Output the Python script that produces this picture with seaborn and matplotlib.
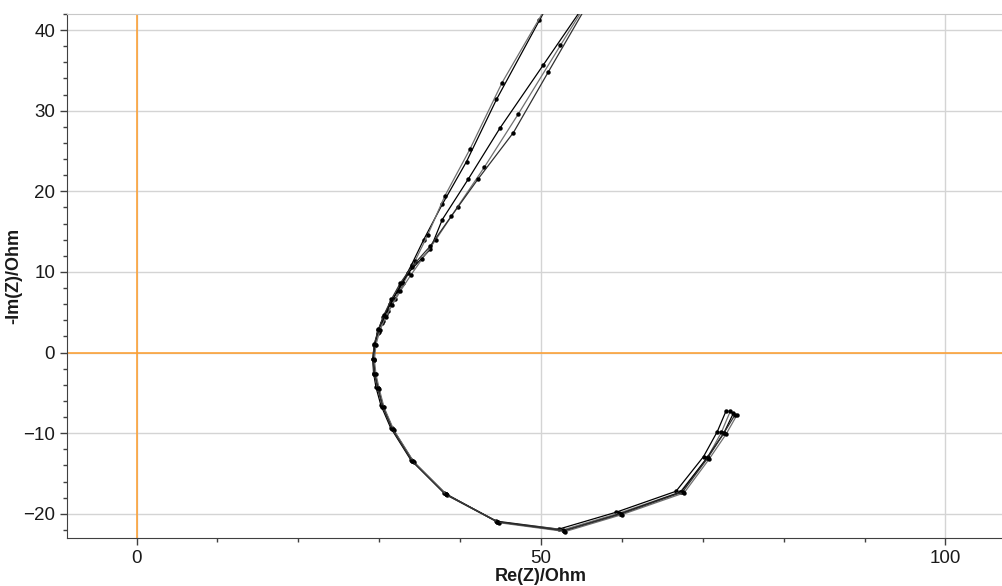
import numpy as np
import pandas as pd
import seaborn as sns
import matplotlib.pyplot as plt
from matplotlib.ticker import MultipleLocator

# impedance traces, Re(Z) and -Im(Z) in Ohm, high frequency first
re_a = [72.9, 71.8, 70.1, 66.7, 59.3, 52.2, 44.4, 38.0, 33.9, 31.4, 30.2, 29.6, 29.3, 29.2,
        29.4, 29.8, 30.3, 30.8, 31.5, 32.6, 34.0, 35.5, 37.8, 40.8, 44.5, 49.8, 56.7]
im_a = [-7.2, -9.8, -12.9, -17.2, -19.8, -21.9, -20.9, -17.4, -13.3, -9.3, -6.5, -4.3, -2.5, -0.8,
        1.0, 2.4, 3.7, 4.8, 6.3, 8.2, 10.9, 14.0, 18.4, 23.7, 31.4, 41.2, 54.0]

re_b = [73.4, 72.3, 70.6, 67.2, 59.7, 52.7, 44.6, 38.2, 34.1, 31.6, 30.4, 29.8, 29.4, 29.3,
        29.5, 30.0, 30.5, 31.1, 31.9, 33.0, 34.4, 36.0, 38.1, 41.2, 45.2, 51.0, 57.5]
im_b = [-7.3, -9.9, -13.0, -17.3, -19.9, -22.0, -21.0, -17.5, -13.4, -9.4, -6.6, -4.4, -2.6, -0.9,
        1.0, 2.6, 3.9, 5.1, 6.6, 8.6, 11.3, 14.6, 19.4, 25.2, 33.5, 43.5, 55.0]

re_c = [73.8, 72.6, 70.5, 67.3, 59.8, 52.9, 44.7, 38.3, 34.2, 31.7, 30.5, 29.9, 29.5, 29.3,
        29.5, 29.9, 30.5, 31.3, 32.3, 33.6, 36.3, 37.8, 41.0, 44.9, 50.3, 57.2]
im_c = [-7.5, -10.0, -13.1, -17.3, -20.0, -22.1, -21.0, -17.6, -13.5, -9.5, -6.7, -4.4, -2.6, -0.8,
        1.1, 2.8, 4.4, 6.0, 7.7, 9.9, 12.8, 16.5, 21.5, 27.8, 35.7, 45.8]

re_d = [74.2, 72.9, 70.8, 67.7, 60.0, 53.0, 44.8, 38.4, 34.3, 31.8, 30.6, 30.0, 29.6, 29.4,
        29.6, 30.1, 30.8, 31.6, 32.6, 33.9, 35.3, 37.0, 39.7, 43.0, 47.2, 52.4, 59.0]
im_d = [-7.8, -10.1, -13.2, -17.4, -20.1, -22.2, -21.1, -17.7, -13.6, -9.6, -6.8, -4.5, -2.7, -0.9,
        1.0, 2.8, 4.4, 5.9, 7.6, 9.6, 11.6, 14.0, 18.1, 23.0, 29.6, 38.1, 48.8]

re_e = [74.0, 72.6, 70.6, 67.5, 59.9, 52.8, 44.6, 38.2, 34.1, 31.6, 30.4, 29.8, 29.4, 29.2,
        29.4, 29.9, 30.6, 31.5, 32.6, 34.0, 36.3, 38.9, 42.2, 46.6, 50.9, 56.5]
im_e = [-7.7, -10.0, -13.1, -17.3, -20.0, -22.1, -21.0, -17.6, -13.5, -9.5, -6.7, -4.4, -2.6, -0.8,
        1.1, 2.9, 4.7, 6.6, 8.6, 10.6, 13.2, 16.9, 21.5, 27.3, 34.8, 44.5]

traces = {"1": (re_a, im_a), "2": (re_b, im_b), "3": (re_c, im_c),
          "4": (re_d, im_d), "5": (re_e, im_e)}
line_colors = ["#000000", "#707070", "#000000", "#707070", "#303030"]

rows = []
for name, (re, im) in traces.items():
    for i, (x, y) in enumerate(zip(re, im)):
        rows.append({"trace": name, "idx": i, "re": x, "im": y})
df = pd.DataFrame(rows)

sns.set_style("white")
plt.rcParams['font.family'] = ['Liberation Sans', 'DejaVu Sans']

fig = plt.figure(figsize=(10.02, 5.86), dpi=100)
ax = fig.add_axes([67 / 1002, 48 / 586, 935 / 1002, 524 / 586])

ax.grid(True, which="major", color="#d4d4d4", lw=1)
ax.set_axisbelow(True)
ax.axvline(0, color="#ff9c2a", lw=1.1, zorder=1)
ax.axhline(0, color="#ff9c2a", lw=1.1, zorder=1)

sns.lineplot(data=df, x="re", y="im", hue="trace", palette=line_colors, sort=False,
             estimator=None, lw=0.9, marker="o", markersize=3.2, markeredgewidth=0,
             legend=False, ax=ax, zorder=3)
for line in ax.lines[2:]:
    line.set_markerfacecolor("black")

ax.set_xlim(-8.6, 107)
ax.set_ylim(-23, 42)
ax.xaxis.set_major_locator(MultipleLocator(50))
ax.xaxis.set_minor_locator(MultipleLocator(10))
ax.yaxis.set_major_locator(MultipleLocator(10))
ax.yaxis.set_minor_locator(MultipleLocator(2))
ax.tick_params(which="major", direction="out", length=5, width=1, color="#404040",
               labelsize=13.5, labelcolor="#1a1a1a", bottom=True, left=True)
ax.tick_params(which="minor", direction="out", length=3, width=1, color="#404040",
               bottom=True, left=True)

ax.spines["left"].set_color("#404040")
ax.spines["bottom"].set_color("#404040")
ax.spines["top"].set_color("#c8c8c8")
ax.spines["right"].set_visible(False)

ax.set_xlabel("Re(Z)/Ohm", fontsize=13, fontweight="bold", color="#1a1a1a")
ax.set_ylabel("-Im(Z)/Ohm", fontsize=13, fontweight="bold", color="#1a1a1a")
ax.xaxis.set_label_coords(0.5 + (541 - 534.5) / 935, -0.057)
ax.yaxis.set_label_coords(-45 / 935, 0.5 + (353 - 276) / 524 - 0.147)

fig.savefig("out.png", dpi=100)
